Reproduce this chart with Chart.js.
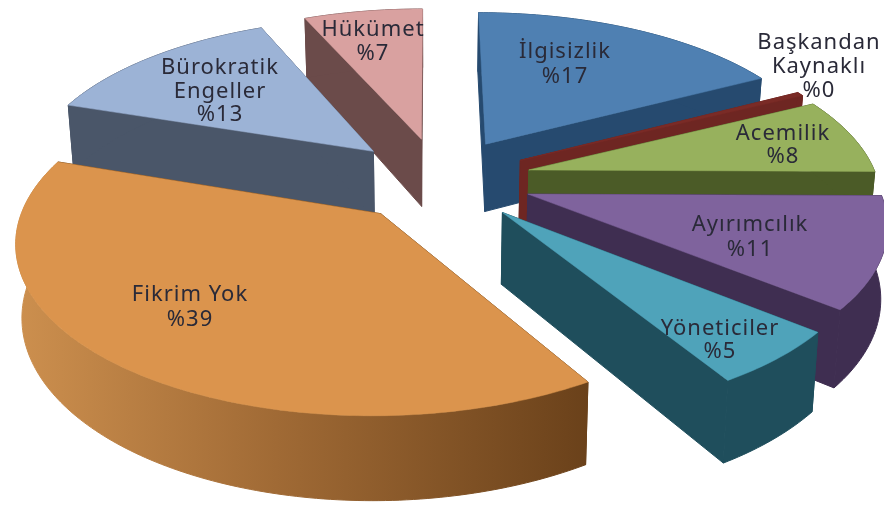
<!DOCTYPE html>
<html>
<head>
<meta charset="utf-8">
<title>Pie</title>
<script src="https://cdn.jsdelivr.net/npm/chart.js@4/dist/chart.umd.min.js"></script>
<style>
    html, body { margin: 0; padding: 0; background: #fff; }
    #wrap { width: 884px; height: 506px; overflow: hidden; }
    #pie { filter: blur(0.4px); }
</style>
</head>
<body>
<div id="wrap"><canvas id="pie" width="884" height="506"></canvas></div>
<script>
// slice data, clockwise from 12 o'clock
const categories = ['İlgisizlik', 'Başkandan Kaynaklı', 'Acemilik', 'Ayırımcılık', 'Yöneticiler', 'Fikrim Yok', 'Bürokratik Engeller', 'Hükümet'];
const values = [17.3, 0.4, 7.5, 10.8, 5.4, 38.9, 13.4, 6.5];
const percentLabels = ['%17', '%0', '%8', '%11', '%5', '%39', '%13', '%7'];

// styles
const topColors = ['#4f80b2', '#7a2b26', '#97b15d', '#7f639d', '#4fa3ba', '#db944d', '#9cb3d6', '#d9a1a0'];
const wallColors = ['#264a6f', '#6e2622', '#4b5b27', '#3f2e51', '#1f4e5c', '#6f441a', '#4a5669', '#6b4b4a'];
const labelLines = [['İlgisizlik'], ['Başkandan', 'Kaynaklı'], ['Acemilik'], ['Ayırımcılık'], ['Yöneticiler'], ['Fikrim Yok'], ['Bürokratik', 'Engeller'], ['Hükümet']];
const labelX = [565, 819, 783, 750, 720, 190, 220, 373];
const labelY = [52, 43, 134, 225, 329, 295, 68, 30];
const lineGap = [25, 24, 23, 25, 23, 25, 23.5, 24];

// 3D view of the pie
const VIEW = { cx: 440, cy: 179, radius: 355, explode: 94, squash: 0.47, horizon: 1100, depth: 71, taper: 0.985 };

function project(angle, r, explodeAngle) {
    const u = Math.cos(explodeAngle) * VIEW.explode + Math.cos(angle) * r;
    const v = (Math.sin(explodeAngle) * VIEW.explode + Math.sin(angle) * r) * VIEW.squash + VIEW.cy - 200;
    const s = 1 / (1 - v / VIEW.horizon);
    return { x: VIEW.cx - 10 + (u + 10) * s, y: 200 + v * s, s: s };
}

function drop(p) {
    return { x: 430 + (p.x - 430) * VIEW.taper, y: p.y + VIEW.depth * p.s };
}

function fillPoly(ctx, pts, fill, seam) {
    ctx.beginPath();
    pts.forEach((p, i) => i ? ctx.lineTo(p.x, p.y) : ctx.moveTo(p.x, p.y));
    ctx.closePath();
    ctx.fillStyle = fill;
    ctx.fill();
    ctx.strokeStyle = fill;
    ctx.lineWidth = seam || 0.5;
    ctx.stroke();
}

const pie3d = {
    id: 'pie3d',
    beforeDatasetDraw(chart, args) {
        const ctx = chart.ctx;
        const arcs = chart.getDatasetMeta(args.index).data;
        const order = arcs.map((a, i) => i).sort((i, j) => {
            const mi = (arcs[i].startAngle + arcs[i].endAngle) / 2;
            const mj = (arcs[j].startAngle + arcs[j].endAngle) / 2;
            return Math.sin(mi) - Math.sin(mj);
        });

        order.forEach(i => {
            const arc = arcs[i];
            const mid = (arc.startAngle + arc.endAngle) / 2;
            const rim = [];
            const steps = Math.max(2, Math.ceil((arc.endAngle - arc.startAngle) * 60));
            for (let k = 0; k <= steps; k++) {
                rim.push(project(arc.startAngle + (arc.endAngle - arc.startAngle) * k / steps, VIEW.radius, mid));
            }
            const apex = project(mid, 0, mid);

            // radial walls
            fillPoly(ctx, [apex, rim[0], drop(rim[0]), drop(apex)], wallColors[i], 1);
            fillPoly(ctx, [apex, rim[steps], drop(rim[steps]), drop(apex)], wallColors[i], 1);

            // rim wall; the big slice gets the gradient
            let rimFill = wallColors[i];
            if (i === 5) {
                const g = ctx.createLinearGradient(20, 0, 590, 0);
                g.addColorStop(0, '#cc8f4e');
                g.addColorStop(0.45, '#a06a35');
                g.addColorStop(1, '#6a411a');
                rimFill = g;
            }
            fillPoly(ctx, rim.concat(rim.map(drop).reverse()), rimFill, 1);

            // top face
            fillPoly(ctx, [apex].concat(rim), arc.options.backgroundColor);
        });
        return false;
    },
    afterDatasetsDraw(chart) {
        const ctx = chart.ctx;
        ctx.save();
        ctx.font = '22px "Noto Sans"';
        ctx.letterSpacing = '1px';
        ctx.fillStyle = '#2a2a38';
        ctx.textAlign = 'center';
        ctx.textBaseline = 'middle';
        categories.forEach((name, i) => {
            const lines = labelLines[i].concat(percentLabels[i]);
            lines.forEach((line, k) => ctx.fillText(line, labelX[i], labelY[i] + k * lineGap[i]));
        });
        ctx.restore();
    }
};

new Chart(document.getElementById('pie'), {
    type: 'pie',
    data: {
        labels: categories,
        datasets: [{ data: values, backgroundColor: topColors, borderWidth: 0 }]
    },
    options: {
        responsive: false,
        animation: false,
        plugins: { legend: { display: false }, tooltip: { enabled: false } }
    },
    plugins: [pie3d]
});
</script>
</body>
</html>
